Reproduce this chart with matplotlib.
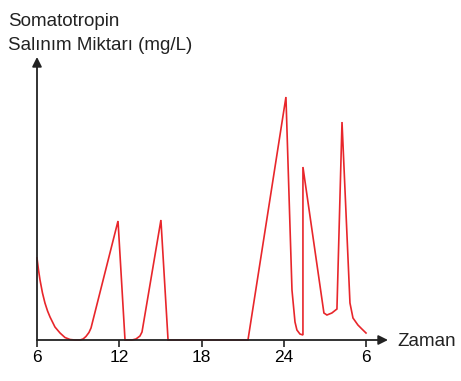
import matplotlib
matplotlib.use("Agg")
import matplotlib.pyplot as plt

plt.rcParams['font.family'] = ['Liberation Sans', 'DejaVu Sans']

# time in hours (6 -> 30 i.e. 06:00 to 06:00 next day)
hours = [6.0, 6.11, 6.22, 6.40, 6.58, 6.77, 6.95, 7.31, 7.68, 8.04, 8.41, 8.77,
         9.14, 9.36, 9.57, 9.79, 9.94, 11.91, 12.42,
         12.93, 13.22, 13.51, 13.66, 15.04, 15.56, 21.39, 24.16, 24.60, 24.82,
         24.96, 25.18, 25.40,
         25.40, 26.93, 27.15, 27.51, 27.88, 28.25, 28.83, 29.05, 29.41, 29.70, 30.0]
level = [82, 70, 60, 47, 37, 29, 23, 13, 7, 2.5, 0.5, 0,
         0, 1, 3.5, 7.5, 12, 119, 0,
         0, 1, 4, 8, 120, 0, 0, 243, 50, 18,
         10, 6, 5,
         173, 27, 25, 27, 31, 218, 37, 22, 15, 11, 7]

tick_pos = [6, 12, 18, 24, 30]
tick_labels = ['6', '12', '18', '24', '6']

W, H = 461, 381
fig = plt.figure(figsize=(W / 100, H / 100), dpi=100)
x0, y0, x1, y1 = 37, 340, 388, 57
ax = fig.add_axes([x0 / W, (H - y0) / H, (x1 - x0) / W, (y0 - y1) / H])
px_per_h = (366 - 37) / 24.0
ax.set_xlim(6, 6 + (x1 - x0) / px_per_h)
ax.set_ylim(0, y0 - y1)

ax.plot(hours, level, color='#e8262b', lw=1.2, solid_joinstyle='miter', clip_on=False)

for s in ax.spines.values():
    s.set_visible(False)
ax.set_yticks([])
ax.set_xticks(tick_pos)
ax.set_xticklabels(tick_labels, fontsize=12.5)
ax.tick_params(axis='x', direction='out', length=5, width=1.2, pad=2, color='#222222')

# axes with arrows
ax.annotate('', xy=(1.0, 0), xytext=(0, 0), xycoords='axes fraction',
            arrowprops=dict(arrowstyle='-|>', color='#222222', lw=1.3,
                            mutation_scale=14, shrinkA=0, shrinkB=0))
ax.annotate('', xy=(0, 1.0), xytext=(0, 0), xycoords='axes fraction',
            arrowprops=dict(arrowstyle='-|>', color='#222222', lw=1.3,
                            mutation_scale=14, shrinkA=0, shrinkB=0))

fig.text(397 / W, 1 - 341 / H, 'Zaman', fontsize=13.5, va='center', ha='left', color='#222222')
fig.text(8 / W, 1 - 21 / H, 'Somatotropin', fontsize=13.5, va='center', ha='left', color='#222222')
fig.text(8 / W, 1 - 45 / H, 'Salınım Miktarı (mg/L)', fontsize=13.5, va='center', ha='left', color='#222222')

fig.savefig('out.png', dpi=100)
